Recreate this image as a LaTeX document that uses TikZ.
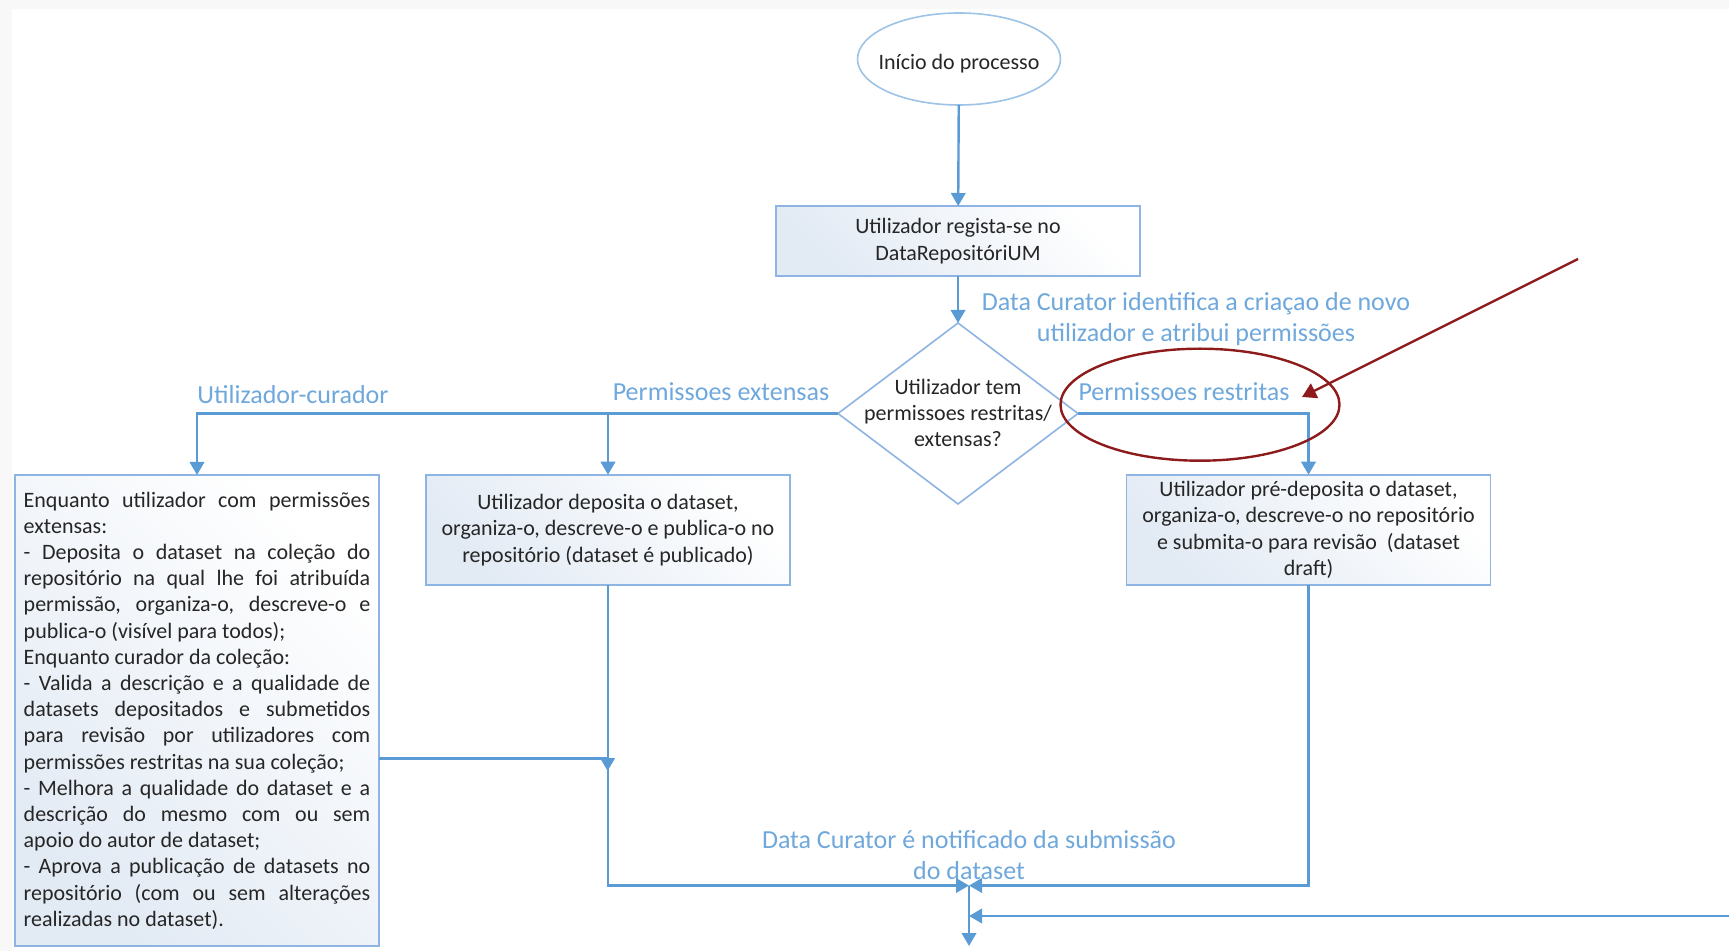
\documentclass[tikz,border=0pt]{standalone}
\usepackage{fontspec}
\setmainfont{Carlito}
\usetikzlibrary{shapes.geometric,arrows.meta}
\definecolor{lineblue}{HTML}{5B9BD5}
\definecolor{labelblue}{HTML}{6FA8DC}
\definecolor{boxline}{HTML}{8EB4E3}
\definecolor{elline}{HTML}{9DC3E6}
\definecolor{boxgrad}{HTML}{E2EAF4}
\definecolor{textc}{HTML}{262626}
\definecolor{annot}{HTML}{8E1B1B}
\definecolor{edgegray}{HTML}{F8F8F8}
\newlength\lbw
\setlength\lbw{173.3pt}
\newcommand\myjline[1]{\makebox[\lbw][s]{#1}}
\newcommand\mylline[1]{\makebox[\lbw][l]{#1}}
\begin{document}
\begin{tikzpicture}[x=0.5pt,y=-0.5pt,
  every node/.style={inner sep=0pt, outer sep=0pt},
  boxnode/.style={draw=boxline, line width=0.8pt, top color=white, bottom color=boxgrad, shading angle=-45,
    minimum width=182pt, align=center, text=textc, font=\fontsize{11}{13.2}\selectfont},
  startnode/.style={draw=elline, line width=0.8pt, fill=white, ellipse, minimum width=101.5pt, minimum height=46pt},
  starttext/.style={text=textc, font=\fontsize{11}{13.2}\selectfont},
  decision/.style={draw=boxline, line width=0.8pt, fill=white, diamond, minimum width=120pt, minimum height=90.5pt},
  dectext/.style={align=center, text=textc, font=\fontsize{11}{13}\selectfont},
  lbl/.style={text=labelblue, align=center, font=\fontsize{13}{15.5}\selectfont},
  conn/.style={draw=lineblue, line width=1.2pt, -{Triangle[width=7.2pt,length=6.5pt]}},
  annotline/.style={draw=annot, line width=1.2pt},
  annotarrow/.style={draw=annot, line width=1.2pt, -{Triangle[width=8pt,length=7pt]}}
]
\useasboundingbox (0,0) rectangle (1729,951);
\fill[white] (0,0) rectangle (1729,951);
\fill[edgegray] (0,0) rectangle (1729,9);
\fill[edgegray] (0,9) rectangle (12,951);

% nodes
\node[startnode] (start) at (959,59) {};
\node[starttext] (starttxt) at (959,64) {Início do processo};
\node[boxnode, minimum height=35pt] (box1) at (958,241) {Utilizador regista-se no\\DataRepositóriUM};
\node[decision] (dia) at (958,413.5) {};
\node[dectext] (diatext) at (958,413) {Utilizador tem\\permissoes restritas/\\extensas?};

\node[boxnode, minimum height=235.5pt, align=left, font=\fontsize{11}{13.1}\selectfont] (lbox) at (197,710.5) {%
\myjline{Enquanto utilizador com permissões}\\
\mylline{extensas:}\\
\myjline{- Deposita o dataset na coleção do}\\
\myjline{repositório na qual lhe foi atribuída}\\
\myjline{permissão, organiza-o, descreve-o e}\\
\mylline{publica-o (visível para todos);}\\
\mylline{Enquanto curador da coleção:}\\
\myjline{- Valida a descrição e a qualidade de}\\
\myjline{datasets depositados e submetidos}\\
\myjline{para revisão por utilizadores com}\\
\mylline{permissões restritas na sua coleção;}\\
\myjline{- Melhora a qualidade do dataset e a}\\
\myjline{descrição do mesmo com ou sem}\\
\mylline{apoio do autor de dataset;}\\
\myjline{- Aprova a publicação de datasets no}\\
\myjline{repositório (com ou sem alterações}\\
\mylline{realizadas no dataset).}};

\node[boxnode, minimum height=55.25pt] (mbox) at (608,530) {Utilizador deposita o dataset,\\organiza-o, descreve-o e publica-o no\\repositório (dataset é publicado)};
\node[boxnode, minimum height=55.25pt] (rbox) at (1308.5,530) {Utilizador pré-deposita o dataset,\\organiza-o, descreve-o no repositório\\e submita-o para revisão~ (dataset\\draft)};

% labels
\node[lbl] (l1) at (1196,319) {Data Curator identifica a criaçao de novo\\utilizador e atribui permissões};
\node[lbl] (l2) at (293,395) {Utilizador-curador};
\node[lbl] (l3) at (721,391.5) {Permissoes extensas};
\node[lbl] (l4) at (1184,391.5) {Permissoes restritas};
\node[lbl] (l5) at (969,855.5) {Data Curator é notificado da submissão\\do dataset};

% coordinates
\coordinate (lh) at (607.6,758.6);
\coordinate (lj) at (607.6,771);
\coordinate (jn) at (969,885.5);
\coordinate (bot) at (969,946);
\coordinate (redge) at (1729,916);
\coordinate (jn2) at (969,916);

% connectors
\draw[conn] (start) -- (box1);
\draw[conn] (box1) -- (dia);
\draw[conn] (dia.west) -| (lbox.north);
\draw[conn] (dia.west) -| (mbox.north);
\draw[conn] (dia.east) -| (rbox.north);
\draw[conn] (lbox.east |- lh) -| (lj);
\draw[conn] (mbox.south) |- (jn);
\draw[conn] (rbox.south) |- (jn);
\draw[conn] (jn) -- (bot);
\draw[conn] (redge) -- (jn2);

% annotation
\node[annotline, ellipse, minimum width=139.5pt, minimum height=56pt] (hl) at (1200,404.7) {};
\coordinate (ra) at (1578,259);
\coordinate (rt) at (1302,397);
\draw[annotarrow] (ra) -- (rt);
\end{tikzpicture}
\end{document}
